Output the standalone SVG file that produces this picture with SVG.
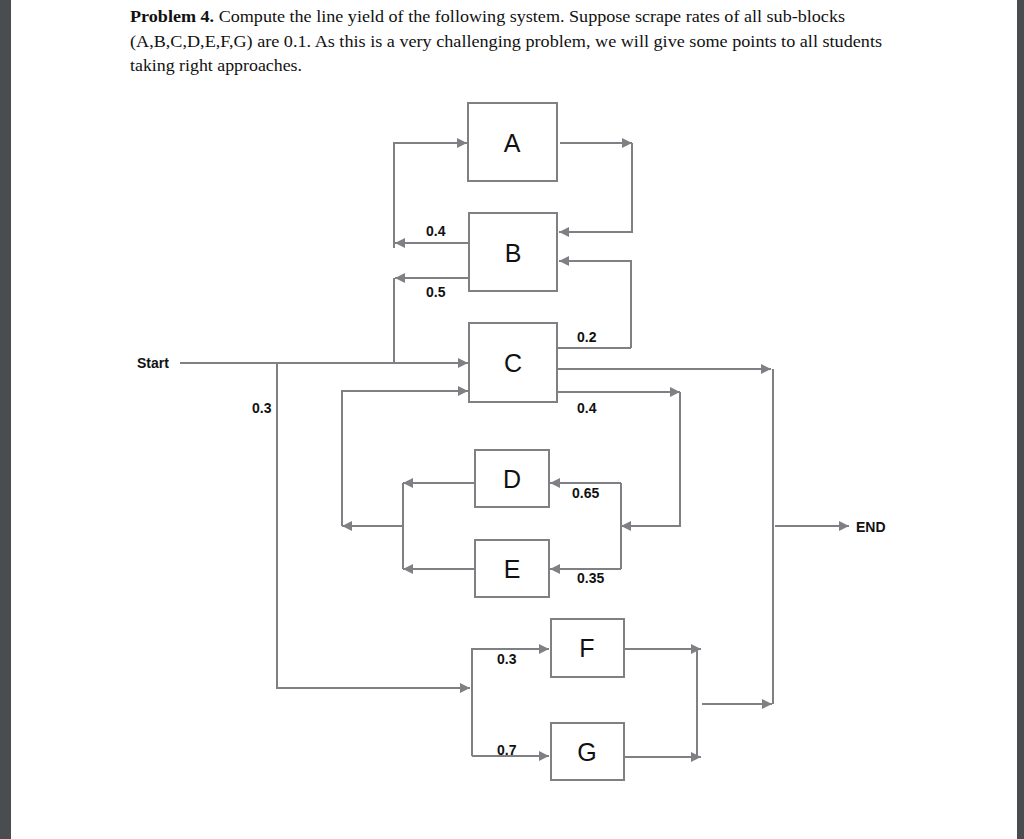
<svg xmlns="http://www.w3.org/2000/svg" width="1024" height="839" viewBox="0 0 1024 839">
<style>
.b{fill:#fff;stroke:#7f8084;stroke-width:2}
.l{fill:none;stroke:#7f8084;stroke-width:2}
.a{marker-end:url(#ar)}
.n{font-family:"Liberation Sans",Arial,sans-serif;font-size:25px;text-anchor:middle;fill:#111}
.s{font-family:"Liberation Sans",Arial,sans-serif;font-size:14px;font-weight:bold;fill:#111}
.h{font-family:"Liberation Serif","Times New Roman",serif;font-size:17.5px;fill:#111}
</style>
<defs><marker id="ar" viewBox="0 0 10 10" refX="10" refY="5" markerWidth="5" markerHeight="5" orient="auto" markerUnits="strokeWidth"><path d="M0,0L10,5L0,10z" fill="#7f8084"/></marker></defs>
<rect width="1024" height="839" fill="#fff"/>
<rect x="0" y="0" width="11" height="839" fill="#4a4d50"/>
<rect x="1017" y="0" width="7" height="839" fill="#4a4d50"/>
<text class="h" x="130" y="22" textLength="715" lengthAdjust="spacingAndGlyphs"><tspan font-weight="bold">Problem 4.</tspan> Compute the line yield of the following system. Suppose scrape rates of all sub-blocks</text>
<text class="h" x="130" y="47" textLength="752" lengthAdjust="spacingAndGlyphs">(A,B,C,D,E,F,G) are 0.1. As this is a very challenging problem, we will give some points to all students</text>
<text class="h" x="130" y="71" textLength="172" lengthAdjust="spacingAndGlyphs">taking right approaches.</text>
<g id="connectors">
<path class="l a" d="M180,363H468"/>
<path class="l a" d="M394,248V143H467"/>
<path class="l a" d="M468,243H395"/>
<path class="l" d="M394,363V278"/>
<path class="l a" d="M468,278H395"/>
<path class="l a" d="M560,143H632"/>
<path class="l a" d="M632,143V232H559"/>
<path class="l a" d="M631,348V261H559"/>
<path class="l" d="M557,348H631"/>
<path class="l a" d="M557,369H771"/>
<path class="l a" d="M557,392H680"/>
<path class="l a" d="M680,392V526H621"/>
<path class="l a" d="M621,483H550"/>
<path class="l a" d="M621,569H550"/>
<path class="l" d="M621,483V569"/>
<path class="l a" d="M475,483H403"/>
<path class="l a" d="M475,569H403"/>
<path class="l" d="M403,483V569"/>
<path class="l a" d="M403,526H342"/>
<path class="l a" d="M342,526V391H468"/>
<path class="l a" d="M277,363V688H470"/>
<path class="l a" d="M472,756V649H549"/>
<path class="l a" d="M472,756H549"/>
<path class="l a" d="M624,649H701"/>
<path class="l a" d="M624,757H701"/>
<path class="l" d="M697,649V757"/>
<path class="l a" d="M702,704H772"/>
<path class="l" d="M773,369V704"/>
<path class="l a" d="M775,526H849"/>
</g>
<g id="A"><rect class="b" x="468" y="103" width="89" height="78"/><text class="n" x="512" y="152">A</text></g>
<g id="B"><rect class="b" x="469" y="213" width="88" height="78"/><text class="n" x="513" y="262">B</text></g>
<g id="C"><rect class="b" x="469" y="323" width="88" height="79"/><text class="n" x="513" y="372">C</text></g>
<g id="D"><rect class="b" x="475" y="450" width="74" height="57"/><text class="n" x="512" y="488">D</text></g>
<g id="E"><rect class="b" x="475" y="540" width="74" height="57"/><text class="n" x="512" y="578">E</text></g>
<g id="F"><rect class="b" x="551" y="619" width="73" height="58"/><text class="n" x="587" y="657">F</text></g>
<g id="G"><rect class="b" x="551" y="723" width="73" height="57"/><text class="n" x="587" y="761">G</text></g>
<g id="labels">
<text class="s" x="137" y="368">Start</text>
<text class="s" x="856" y="532">END</text>
<text class="s" x="426" y="236">0.4</text>
<text class="s" x="426" y="297">0.5</text>
<text class="s" x="577" y="342">0.2</text>
<text class="s" x="577" y="413">0.4</text>
<text class="s" x="252" y="413">0.3</text>
<text class="s" x="572" y="498">0.65</text>
<text class="s" x="577" y="583">0.35</text>
<text class="s" x="497" y="664">0.3</text>
<text class="s" x="497" y="755">0.7</text>
</g>
</svg>
